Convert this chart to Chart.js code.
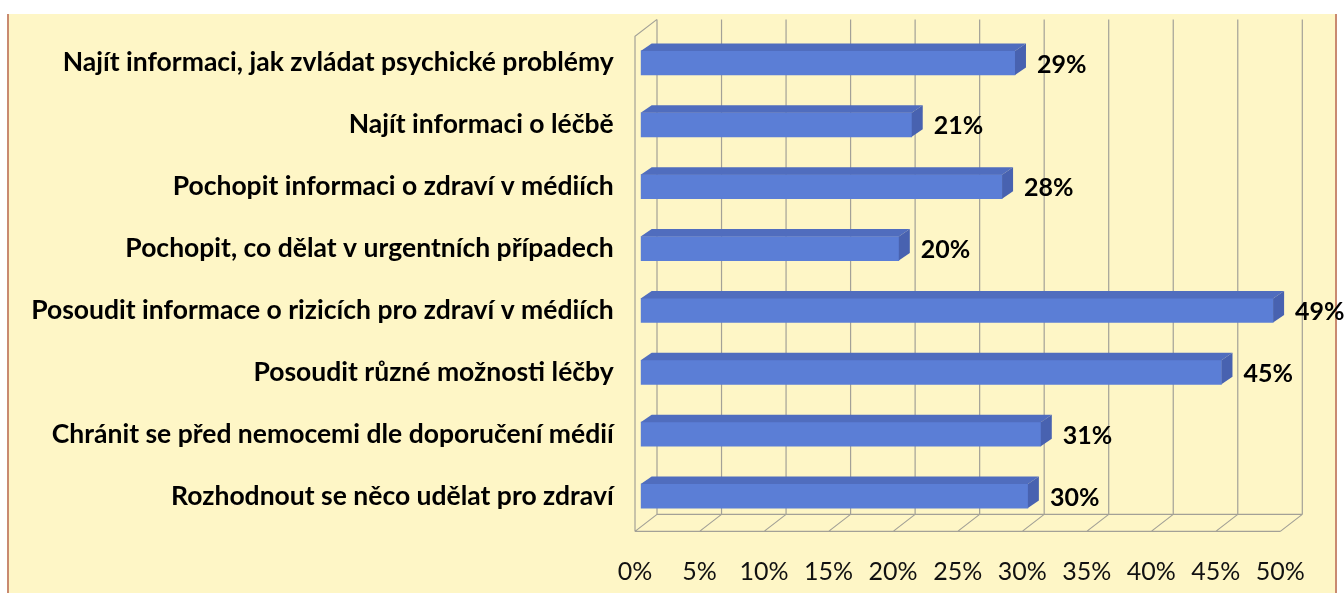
<!DOCTYPE html>
<html>
<head>
<meta charset="utf-8">
<script src="https://cdn.jsdelivr.net/npm/chart.js@4.4.1/dist/chart.umd.min.js"></script>
<style>
  html, body { margin:0; padding:0; background:#ffffff; width:1344px; height:593px; overflow:hidden; }
  #panel { position:absolute; left:7px; top:14px; width:1326px; height:590px; background:#FEF6C6;
           border-left:2px solid #C98A70; border-right:2px solid #C98A70; }
  #c { position:absolute; left:0; top:0; }
</style>
</head>
<body>
<div id="panel"></div>
<canvas id="c" width="1344" height="593"></canvas>
<script>
const categories = [
  "Najít informaci, jak zvládat psychické problémy",
  "Najít informaci o léčbě",
  "Pochopit informaci o zdraví v médiích",
  "Pochopit, co dělat v urgentních případech",
  "Posoudit informace o rizicích pro zdraví v médiích",
  "Posoudit různé možnosti léčby",
  "Chránit se před nemocemi dle doporučení médií",
  "Rozhodnout se něco udělat pro zdraví"
];
const values = [29, 21, 28, 20, 49, 45, 31, 30];
const xTickValues = [0, 5, 10, 15, 20, 25, 30, 35, 40, 45, 50];
const xTickLabels = xTickValues.map(v => v + "%");

const FRONT = "#5B7ED6", TOP = "#506DBE", SIDE = "#4862B0", GRID = "#A3A197";
const BAR_DX = 11, BAR_DY = 7.5;
const FRONT_OFF = { dx: -5.7, dy: 4.4 }, BACK_OFF = { dx: 16.3, dy: -12.6 };

const threeD = {
  id: "threeD",
  beforeDatasetsDraw(chart) {
    const { ctx, chartArea: a, scales: { x } } = chart;
    ctx.save();
    ctx.strokeStyle = GRID; ctx.lineWidth = 1.2;
    const bt = a.top + BACK_OFF.dy, bb = a.bottom + BACK_OFF.dy, fb = a.bottom + FRONT_OFF.dy, ft = a.top + FRONT_OFF.dy;
    ctx.beginPath();
    xTickValues.forEach(v => {
      const px = x.getPixelForValue(v);
      ctx.moveTo(px + BACK_OFF.dx, bt); ctx.lineTo(px + BACK_OFF.dx, bb);
      ctx.moveTo(px + BACK_OFF.dx, bb); ctx.lineTo(px + FRONT_OFF.dx, fb);
    });
    const x0 = x.getPixelForValue(0), x1 = x.getPixelForValue(50);
    ctx.moveTo(x0 + BACK_OFF.dx, bb); ctx.lineTo(x1 + BACK_OFF.dx, bb);
    ctx.moveTo(x0 + FRONT_OFF.dx, fb); ctx.lineTo(x1 + FRONT_OFF.dx, fb);
    ctx.moveTo(x0 + BACK_OFF.dx, bt); ctx.lineTo(x0 + FRONT_OFF.dx, ft); ctx.lineTo(x0 + FRONT_OFF.dx, fb);
    ctx.stroke();
    ctx.restore();
  },
  afterDatasetsDraw(chart) {
    const { ctx, scales: { x } } = chart;
    const meta = chart.getDatasetMeta(0);
    ctx.save();
    meta.data.forEach((bar, i) => {
      const p = bar.getProps(["x", "y", "base", "height"], true);
      const t = p.y - p.height / 2, b = p.y + p.height / 2;
      ctx.fillStyle = TOP;
      ctx.beginPath();
      ctx.moveTo(p.base, t); ctx.lineTo(p.x, t);
      ctx.lineTo(p.x + BAR_DX, t - BAR_DY); ctx.lineTo(p.base + BAR_DX, t - BAR_DY);
      ctx.closePath(); ctx.fill();
      ctx.fillStyle = SIDE;
      ctx.beginPath();
      ctx.moveTo(p.x, t); ctx.lineTo(p.x + BAR_DX, t - BAR_DY);
      ctx.lineTo(p.x + BAR_DX, b - BAR_DY); ctx.lineTo(p.x, b);
      ctx.closePath(); ctx.fill();
      ctx.fillStyle = "#000";
      ctx.font = "bold 25px Lato";
      ctx.textAlign = "left"; ctx.textBaseline = "middle";
      ctx.fillText(values[i] + "%", p.x + BAR_DX + 11, p.y + 1.5);
    });
    ctx.fillStyle = "#111";
    ctx.font = "25px Lato";
    ctx.textAlign = "center"; ctx.textBaseline = "middle";
    xTickValues.forEach((v, i) => {
      ctx.fillText(xTickLabels[i], x.getPixelForValue(v) + FRONT_OFF.dx, 572);
    });
    ctx.restore();
  }
};

new Chart(document.getElementById("c"), {
  type: "bar",
  data: {
    labels: categories,
    datasets: [{ data: values, backgroundColor: FRONT, borderWidth: 0, barThickness: 24 }]
  },
  options: {
    indexAxis: "y",
    responsive: false,
    devicePixelRatio: 1,
    animation: false,
    layout: { padding: { top: 32, bottom: 66, right: 58, left: 0 } },
    plugins: { legend: { display: false }, tooltip: { enabled: false } },
    scales: {
      x: { min: 0, max: 50, display: false, ticks: { stepSize: 5 } },
      y: {
        grid: { display: false, drawTicks: false },
        border: { display: false },
        ticks: { autoSkip: false, color: "#000", font: { family: "Lato", weight: "bold", size: 26.5 }, padding: 27 },
        afterFit(scale) { scale.width = 640.7; scale.paddingTop = 0; scale.paddingBottom = 0; }
      }
    }
  },
  plugins: [threeD]
});
</script>
</body>
</html>
